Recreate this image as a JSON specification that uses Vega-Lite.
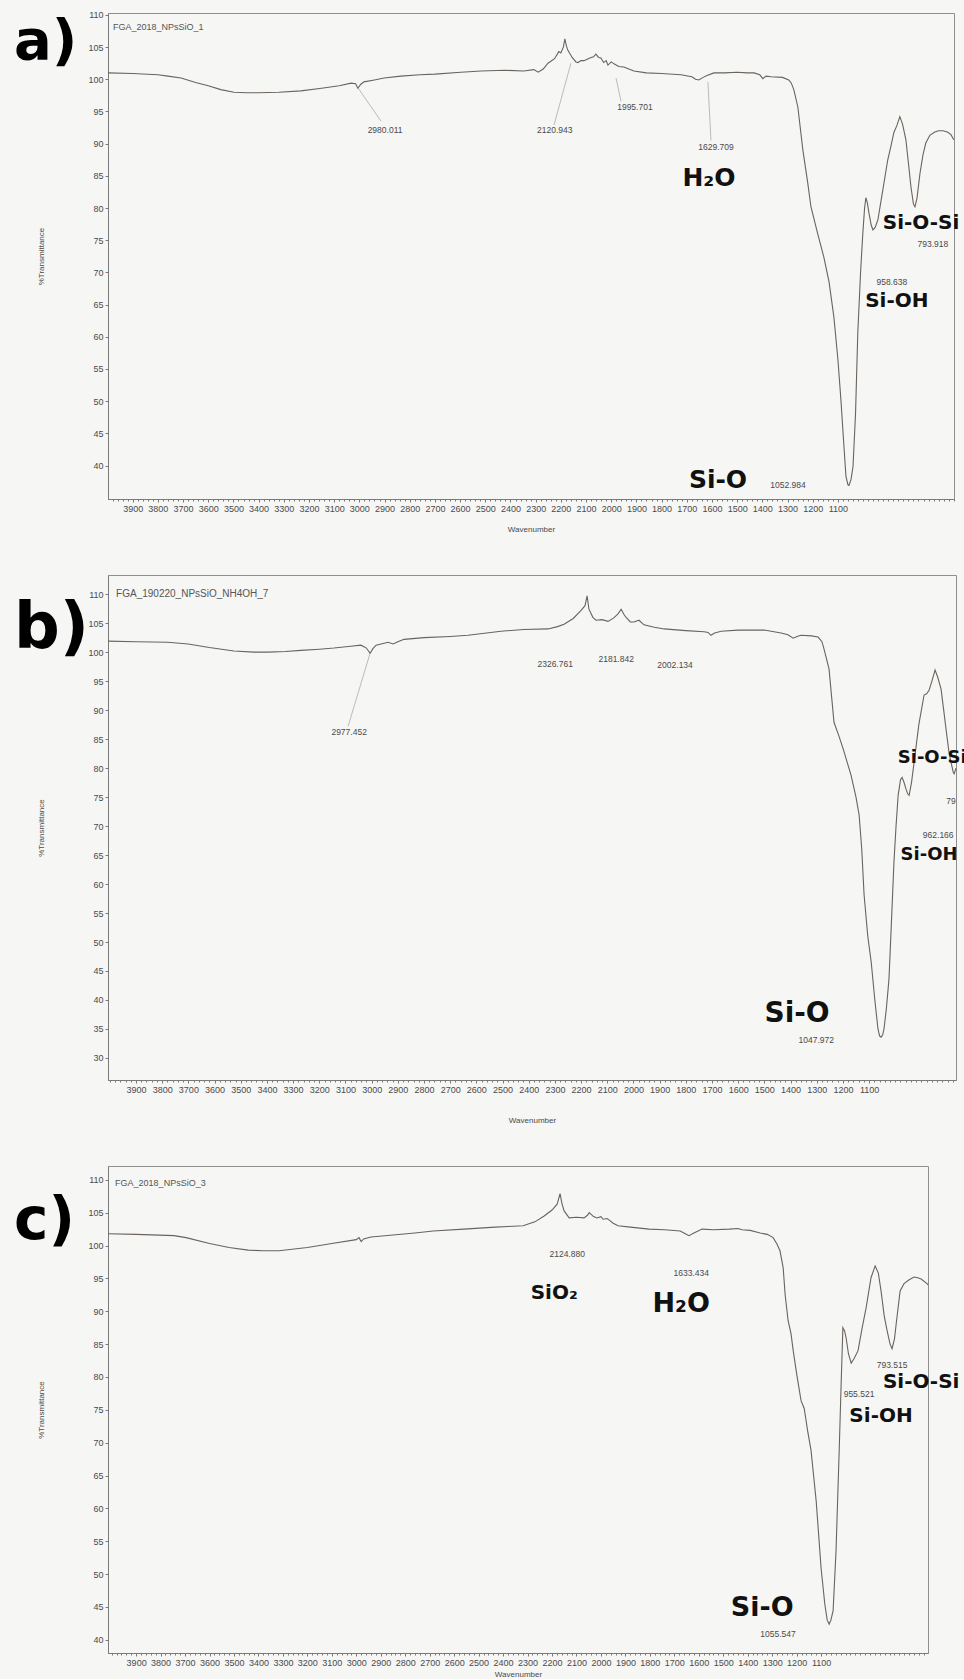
{
  "$schema": "https://vega.github.io/schema/vega-lite/v6.json",
  "background": "#f6f6f5",
  "padding": {"left": 13, "top": 10, "right": 0, "bottom": 0},
  "spacing": 40,
  "config": {
    "view": {"stroke": "#8e8e8e", "strokeWidth": 1},
    "axis": {"grid": false, "domainColor": "#7a7a7a", "tickColor": "#7a7a7a", "labelColor": "#4a4a4a", "labelFont": "Liberation Sans", "labelFontSize": 9, "titleFont": "Liberation Sans", "titleFontSize": 8, "titleFontWeight": "normal", "titleColor": "#4a4a4a", "tickSize": 3, "labelPadding": 2, "labelOverlap": false},
    "text": {"font": "Liberation Sans"}
  },
  "datasets": {
    "a_spec": [
      {"wn":3998,"T":101.0},{"wn":3900,"T":100.9},{"wn":3800,"T":100.7},{"wn":3760,"T":100.5},{"wn":3708,"T":100.2},{"wn":3650,"T":99.5},{"wn":3600,"T":99.0},{"wn":3550,"T":98.4},{"wn":3498,"T":98.0},{"wn":3450,"T":97.9},{"wn":3403,"T":97.9},{"wn":3320,"T":98.0},{"wn":3232,"T":98.2},{"wn":3150,"T":98.6},{"wn":3080,"T":99.0},{"wn":3033,"T":99.4},{"wn":3015,"T":99.3},{"wn":3006,"T":98.6},{"wn":2995,"T":99.2},{"wn":2982,"T":99.6},{"wn":2940,"T":99.9},{"wn":2902,"T":100.2},{"wn":2835,"T":100.5},{"wn":2760,"T":100.7},{"wn":2700,"T":100.8},{"wn":2597,"T":101.1},{"wn":2517,"T":101.3},{"wn":2420,"T":101.4},{"wn":2347,"T":101.3},{"wn":2307,"T":101.5},{"wn":2290,"T":101.1},{"wn":2270,"T":101.6},{"wn":2251,"T":102.5},{"wn":2225,"T":103.2},{"wn":2208,"T":104.3},{"wn":2200,"T":104.1},{"wn":2190,"T":105.0},{"wn":2184,"T":106.3},{"wn":2178,"T":105.2},{"wn":2172,"T":104.5},{"wn":2155,"T":103.4},{"wn":2140,"T":102.7},{"wn":2132,"T":102.6},{"wn":2120,"T":102.9},{"wn":2108,"T":102.9},{"wn":2085,"T":103.3},{"wn":2070,"T":103.5},{"wn":2061,"T":103.9},{"wn":2050,"T":103.4},{"wn":2041,"T":103.3},{"wn":2030,"T":102.6},{"wn":2020,"T":102.9},{"wn":2013,"T":102.2},{"wn":2000,"T":102.7},{"wn":1989,"T":102.4},{"wn":1970,"T":102.0},{"wn":1950,"T":101.9},{"wn":1930,"T":101.6},{"wn":1910,"T":101.3},{"wn":1860,"T":101.0},{"wn":1800,"T":100.9},{"wn":1723,"T":100.7},{"wn":1680,"T":100.4},{"wn":1665,"T":100.0},{"wn":1652,"T":99.9},{"wn":1635,"T":100.3},{"wn":1620,"T":100.6},{"wn":1592,"T":101.0},{"wn":1550,"T":101.0},{"wn":1500,"T":101.1},{"wn":1460,"T":101.0},{"wn":1433,"T":101.0},{"wn":1410,"T":100.7},{"wn":1398,"T":100.1},{"wn":1385,"T":100.5},{"wn":1366,"T":100.4},{"wn":1320,"T":100.3},{"wn":1295,"T":99.9},{"wn":1285,"T":99.4},{"wn":1275,"T":98.4},{"wn":1259,"T":95.7},{"wn":1239,"T":89.0},{"wn":1220,"T":84.0},{"wn":1207,"T":80.2},{"wn":1180,"T":76.0},{"wn":1156,"T":72.4},{"wn":1135,"T":68.5},{"wn":1116,"T":63.1},{"wn":1100,"T":56.5},{"wn":1088,"T":50.2},{"wn":1076,"T":43.0},{"wn":1068,"T":38.3},{"wn":1060,"T":37.0},{"wn":1056,"T":36.9},{"wn":1048,"T":37.8},{"wn":1040,"T":39.8},{"wn":1030,"T":48.0},{"wn":1021,"T":60.6},{"wn":1010,"T":70.0},{"wn":1001,"T":76.1},{"wn":994,"T":80.0},{"wn":989,"T":81.6},{"wn":983,"T":80.8},{"wn":977,"T":79.3},{"wn":968,"T":77.4},{"wn":961,"T":76.6},{"wn":952,"T":77.0},{"wn":941,"T":78.2},{"wn":925,"T":82.0},{"wn":902,"T":87.5},{"wn":890,"T":89.5},{"wn":878,"T":91.7},{"wn":866,"T":92.8},{"wn":854,"T":94.2},{"wn":843,"T":93.0},{"wn":830,"T":90.6},{"wn":820,"T":87.0},{"wn":810,"T":83.3},{"wn":800,"T":80.6},{"wn":794,"T":80.2},{"wn":786,"T":81.5},{"wn":774,"T":85.4},{"wn":762,"T":88.3},{"wn":751,"T":90.1},{"wn":735,"T":91.3},{"wn":715,"T":91.8},{"wn":700,"T":92.0},{"wn":683,"T":92.0},{"wn":665,"T":91.8},{"wn":651,"T":91.4},{"wn":640,"T":90.6}
    ],
    "a_lead": [
      {"wn":3006,"T":98.7,"wn2":2914,"T2":93.5},{"wn":2160,"T":102.5,"wn2":2227,"T2":92.9},{"wn":1981,"T":100.2,"wn2":1961,"T2":96.6},{"wn":1616,"T":99.6,"wn2":1604,"T2":90.5}
    ],
    "a_peaks": [
      {"wn":2898,"T":92.1,"label":"2980.011"},{"wn":2224,"T":92.1,"label":"2120.943"},{"wn":1906,"T":95.7,"label":"1995.701"},{"wn":1584,"T":89.5,"label":"1629.709"},{"wn":723,"T":74.4,"label":"793.918"},{"wn":886,"T":68.5,"label":"958.638"},{"wn":1298,"T":36.9,"label":"1052.984"}
    ],
    "a_big": [{"wn":1612,"T":84.7,"label":"H₂O"},{"wn":1576,"T":37.8,"label":"Si-O"}],
    "a_mid": [{"wn":770,"T":77.7,"label":"Si-O-Si"},{"wn":866,"T":65.6,"label":"Si-OH"}],
    "b_spec": [
      {"wn":4007,"T":101.9},{"wn":3900,"T":101.8},{"wn":3778,"T":101.7},{"wn":3701,"T":101.4},{"wn":3620,"T":100.8},{"wn":3526,"T":100.2},{"wn":3450,"T":100.0},{"wn":3396,"T":100.0},{"wn":3330,"T":100.1},{"wn":3270,"T":100.3},{"wn":3200,"T":100.5},{"wn":3144,"T":100.7},{"wn":3080,"T":101.0},{"wn":3041,"T":101.2},{"wn":3020,"T":100.7},{"wn":3006,"T":99.8},{"wn":2995,"T":100.6},{"wn":2983,"T":101.2},{"wn":2937,"T":101.7},{"wn":2918,"T":101.4},{"wn":2900,"T":101.8},{"wn":2876,"T":102.2},{"wn":2800,"T":102.5},{"wn":2700,"T":102.7},{"wn":2632,"T":102.9},{"wn":2506,"T":103.6},{"wn":2420,"T":103.9},{"wn":2326,"T":104.0},{"wn":2290,"T":104.4},{"wn":2265,"T":104.8},{"wn":2230,"T":105.8},{"wn":2200,"T":107.2},{"wn":2185,"T":108.0},{"wn":2177,"T":109.7},{"wn":2170,"T":107.4},{"wn":2155,"T":106.0},{"wn":2143,"T":105.5},{"wn":2120,"T":105.6},{"wn":2097,"T":105.3},{"wn":2075,"T":105.9},{"wn":2059,"T":106.6},{"wn":2047,"T":107.4},{"wn":2035,"T":106.4},{"wn":2028,"T":106.0},{"wn":2012,"T":105.2},{"wn":1998,"T":105.2},{"wn":1979,"T":105.5},{"wn":1960,"T":104.7},{"wn":1920,"T":104.3},{"wn":1883,"T":104.0},{"wn":1800,"T":103.7},{"wn":1730,"T":103.5},{"wn":1715,"T":103.4},{"wn":1704,"T":102.9},{"wn":1690,"T":103.3},{"wn":1665,"T":103.6},{"wn":1600,"T":103.8},{"wn":1501,"T":103.8},{"wn":1436,"T":103.3},{"wn":1410,"T":103.0},{"wn":1390,"T":102.4},{"wn":1375,"T":102.7},{"wn":1360,"T":102.9},{"wn":1320,"T":102.8},{"wn":1295,"T":102.6},{"wn":1280,"T":101.8},{"wn":1272,"T":100.5},{"wn":1253,"T":97.1},{"wn":1234,"T":87.9},{"wn":1215,"T":85.5},{"wn":1199,"T":83.3},{"wn":1169,"T":78.8},{"wn":1150,"T":75.0},{"wn":1138,"T":71.9},{"wn":1128,"T":66.0},{"wn":1119,"T":58.1},{"wn":1105,"T":51.0},{"wn":1092,"T":46.6},{"wn":1078,"T":40.0},{"wn":1066,"T":35.0},{"wn":1060,"T":33.8},{"wn":1054,"T":33.6},{"wn":1048,"T":34.0},{"wn":1043,"T":35.0},{"wn":1034,"T":38.5},{"wn":1024,"T":43.6},{"wn":1015,"T":53.0},{"wn":1005,"T":63.8},{"wn":997,"T":70.0},{"wn":989,"T":75.3},{"wn":980,"T":78.0},{"wn":974,"T":78.4},{"wn":967,"T":77.6},{"wn":959,"T":76.4},{"wn":953,"T":75.6},{"wn":947,"T":75.3},{"wn":938,"T":77.5},{"wn":928,"T":81.0},{"wn":910,"T":87.5},{"wn":890,"T":92.6},{"wn":880,"T":92.8},{"wn":871,"T":93.4},{"wn":860,"T":95.0},{"wn":848,"T":96.9},{"wn":838,"T":95.7},{"wn":825,"T":93.6},{"wn":815,"T":90.0},{"wn":806,"T":86.7},{"wn":795,"T":82.8},{"wn":787,"T":81.0},{"wn":778,"T":79.2},{"wn":775,"T":79.0},{"wn":768,"T":80.0}
    ],
    "b_lead": [{"wn":3006,"T":99.8,"wn2":3090,"T2":87.2}],
    "b_peaks": [
      {"wn":3086,"T":86.2,"label":"2977.452"},{"wn":2299,"T":97.9,"label":"2326.761"},{"wn":2066,"T":98.8,"label":"2181.842"},{"wn":1841,"T":97.8,"label":"2002.134"},{"wn":787,"T":74.3,"label":"79"},{"wn":836,"T":68.4,"label":"962.166"},{"wn":1302,"T":33.1,"label":"1047.972"}
    ],
    "b_big": [{"wn":1375,"T":37.6,"label":"Si-O"}],
    "b_mid": [{"wn":859,"T":81.7,"label":"Si-O-Si"},{"wn":871,"T":65.0,"label":"Si-OH"}],
    "c_spec": [
      {"wn":4015,"T":101.8},{"wn":3900,"T":101.7},{"wn":3745,"T":101.5},{"wn":3696,"T":101.2},{"wn":3600,"T":100.3},{"wn":3520,"T":99.7},{"wn":3442,"T":99.3},{"wn":3380,"T":99.2},{"wn":3316,"T":99.2},{"wn":3200,"T":99.7},{"wn":3100,"T":100.3},{"wn":3000,"T":100.9},{"wn":2989,"T":101.2},{"wn":2980,"T":100.6},{"wn":2970,"T":101.0},{"wn":2940,"T":101.3},{"wn":2850,"T":101.6},{"wn":2760,"T":101.9},{"wn":2686,"T":102.2},{"wn":2560,"T":102.5},{"wn":2433,"T":102.8},{"wn":2380,"T":102.9},{"wn":2318,"T":103.0},{"wn":2270,"T":103.6},{"wn":2232,"T":104.5},{"wn":2200,"T":105.4},{"wn":2179,"T":106.3},{"wn":2167,"T":107.9},{"wn":2160,"T":106.5},{"wn":2151,"T":105.3},{"wn":2130,"T":104.2},{"wn":2100,"T":104.3},{"wn":2069,"T":104.2},{"wn":2055,"T":104.6},{"wn":2048,"T":105.0},{"wn":2030,"T":104.4},{"wn":2016,"T":104.2},{"wn":2000,"T":104.4},{"wn":1991,"T":104.0},{"wn":1975,"T":104.1},{"wn":1967,"T":103.9},{"wn":1950,"T":103.4},{"wn":1930,"T":103.0},{"wn":1880,"T":102.8},{"wn":1803,"T":102.5},{"wn":1740,"T":102.4},{"wn":1676,"T":102.2},{"wn":1655,"T":101.8},{"wn":1640,"T":101.5},{"wn":1620,"T":101.9},{"wn":1586,"T":102.5},{"wn":1540,"T":102.4},{"wn":1476,"T":102.5},{"wn":1440,"T":102.6},{"wn":1423,"T":102.4},{"wn":1390,"T":102.3},{"wn":1349,"T":101.9},{"wn":1320,"T":101.7},{"wn":1296,"T":101.2},{"wn":1280,"T":100.2},{"wn":1268,"T":99.2},{"wn":1255,"T":96.6},{"wn":1247,"T":92.5},{"wn":1235,"T":88.6},{"wn":1223,"T":86.6},{"wn":1214,"T":84.0},{"wn":1200,"T":80.5},{"wn":1182,"T":76.4},{"wn":1169,"T":75.2},{"wn":1155,"T":71.8},{"wn":1141,"T":68.8},{"wn":1120,"T":61.1},{"wn":1100,"T":50.9},{"wn":1085,"T":45.5},{"wn":1075,"T":43.0},{"wn":1067,"T":42.4},{"wn":1060,"T":43.0},{"wn":1051,"T":44.4},{"wn":1039,"T":53.5},{"wn":1026,"T":68.8},{"wn":1018,"T":79.0},{"wn":1011,"T":87.5},{"wn":1004,"T":87.0},{"wn":998,"T":86.0},{"wn":988,"T":83.5},{"wn":977,"T":82.1},{"wn":965,"T":82.8},{"wn":949,"T":84.0},{"wn":932,"T":87.5},{"wn":916,"T":90.5},{"wn":896,"T":95.1},{"wn":879,"T":96.9},{"wn":866,"T":95.8},{"wn":855,"T":93.1},{"wn":842,"T":89.3},{"wn":830,"T":87.0},{"wn":818,"T":85.0},{"wn":810,"T":84.3},{"wn":800,"T":85.8},{"wn":793,"T":88.1},{"wn":777,"T":93.1},{"wn":761,"T":94.2},{"wn":740,"T":94.8},{"wn":720,"T":95.2},{"wn":705,"T":95.1},{"wn":691,"T":94.9},{"wn":667,"T":94.2},{"wn":663,"T":94.0}
    ],
    "c_peaks": [
      {"wn":2138,"T":98.7,"label":"2124.880"},{"wn":1631,"T":95.8,"label":"1633.434"},{"wn":810,"T":81.8,"label":"793.515"},{"wn":945,"T":77.4,"label":"955.521"},{"wn":1276,"T":40.9,"label":"1055.547"}
    ],
    "c_big": [{"wn":1672,"T":91.1,"label":"H₂O"},{"wn":1341,"T":44.9,"label":"Si-O"}],
    "c_mid": [{"wn":2191,"T":92.8,"label":"SiO₂"},{"wn":691,"T":79.3,"label":"Si-O-Si"},{"wn":855,"T":74.1,"label":"Si-OH"}]
  },
  "vconcat": [
    {
      "width": 846, "height": 486,
      "resolve": {"axis": {"x": "independent", "y": "independent"}},
      "layer": [
        {"data": {"name": "a_spec"}, "mark": {"type": "line", "color": "#6a635e", "strokeWidth": 1.1},
         "encoding": {
           "x": {"field": "wn", "type": "quantitative", "title": "Wavenumber", "scale": {"domain": [639, 3998], "reverse": true, "nice": false, "zero": false},
                 "axis": {"orient": "bottom", "format": "d", "values": [1100,1200,1300,1400,1500,1600,1700,1800,1900,2000,2100,2200,2300,2400,2500,2600,2700,2800,2900,3000,3100,3200,3300,3400,3500,3600,3700,3800,3900], "titlePadding": 12}},
           "y": {"field": "T", "type": "quantitative", "title": "%Transmittance", "scale": {"domain": [34.8, 110.3], "nice": false, "zero": false},
                 "axis": {"orient": "left", "format": "d", "values": [40,45,50,55,60,65,70,75,80,85,90,95,100,105,110], "titlePadding": 42}}
         }},
        {"data": {"name": "a_lead"}, "mark": {"type": "rule", "color": "#a0a0a0", "strokeWidth": 0.7},
         "encoding": {"x": {"field": "wn", "type": "quantitative", "axis": null}, "x2": {"field": "wn2"}, "y": {"field": "T", "type": "quantitative", "axis": null}, "y2": {"field": "T2"}}},
        {"data": {"name": "a_peaks"}, "mark": {"type": "text", "fontSize": 8.5, "color": "#4a4a4a", "baseline": "middle", "align": "center"},
         "encoding": {"x": {"field": "wn", "type": "quantitative", "axis": {"orient": "bottom", "tickCount": 170, "labels": false, "domain": false, "tickSize": 2, "title": null}}, "y": {"field": "T", "type": "quantitative", "axis": null}, "text": {"field": "label"}}},
        {"data": {"name": "a_big"}, "mark": {"type": "text", "font": "DejaVu Sans", "fontWeight": "bold", "fontSize": 25, "color": "#111111", "baseline": "middle", "align": "center"},
         "encoding": {"x": {"field": "wn", "type": "quantitative", "axis": null}, "y": {"field": "T", "type": "quantitative", "axis": null}, "text": {"field": "label"}}},
        {"data": {"name": "a_mid"}, "mark": {"type": "text", "font": "DejaVu Sans", "fontWeight": "bold", "fontSize": 20, "color": "#111111", "baseline": "middle", "align": "center"},
         "encoding": {"x": {"field": "wn", "type": "quantitative", "axis": null}, "y": {"field": "T", "type": "quantitative", "axis": null}, "text": {"field": "label"}}},
        {"data": {"values": [{"label": "a)"}]}, "mark": {"type": "text", "font": "DejaVu Sans", "fontWeight": "bold", "fontSize": 56, "color": "#000000", "baseline": "middle", "align": "left"},
         "encoding": {"x": {"datum": 4371, "type": "quantitative", "axis": null}, "y": {"datum": 105.8, "type": "quantitative", "axis": null}, "text": {"field": "label"}}},
        {"data": {"values": [{"label": "FGA_2018_NPsSiO_1"}]}, "mark": {"type": "text", "fontSize": 9, "color": "#555555", "baseline": "middle", "align": "left"},
         "encoding": {"x": {"datum": 3978, "type": "quantitative", "axis": null}, "y": {"datum": 108.1, "type": "quantitative", "axis": null}, "text": {"field": "label"}}}
      ]
    },
    {
      "width": 848, "height": 505,
      "resolve": {"axis": {"x": "independent", "y": "independent"}},
      "layer": [
        {"data": {"name": "b_spec"}, "mark": {"type": "line", "color": "#6a635e", "strokeWidth": 1.1},
         "encoding": {
           "x": {"field": "wn", "type": "quantitative", "title": "Wavenumber", "scale": {"domain": [768, 4007], "reverse": true, "nice": false, "zero": false},
                 "axis": {"orient": "bottom", "format": "d", "values": [1100,1200,1300,1400,1500,1600,1700,1800,1900,2000,2100,2200,2300,2400,2500,2600,2700,2800,2900,3000,3100,3200,3300,3400,3500,3600,3700,3800,3900], "titlePadding": 22}},
           "y": {"field": "T", "type": "quantitative", "title": "%Transmittance", "scale": {"domain": [26.2, 113.3], "nice": false, "zero": false},
                 "axis": {"orient": "left", "format": "d", "values": [30,35,40,45,50,55,60,65,70,75,80,85,90,95,100,105,110], "titlePadding": 42}}
         }},
        {"data": {"name": "b_lead"}, "mark": {"type": "rule", "color": "#a0a0a0", "strokeWidth": 0.7},
         "encoding": {"x": {"field": "wn", "type": "quantitative", "axis": null}, "x2": {"field": "wn2"}, "y": {"field": "T", "type": "quantitative", "axis": null}, "y2": {"field": "T2"}}},
        {"data": {"name": "b_peaks"}, "mark": {"type": "text", "fontSize": 8.5, "color": "#4a4a4a", "baseline": "middle", "align": "center"},
         "encoding": {"x": {"field": "wn", "type": "quantitative", "axis": {"orient": "bottom", "tickCount": 170, "labels": false, "domain": false, "tickSize": 2, "title": null}}, "y": {"field": "T", "type": "quantitative", "axis": null}, "text": {"field": "label"}}},
        {"data": {"name": "b_big"}, "mark": {"type": "text", "font": "DejaVu Sans", "fontWeight": "bold", "fontSize": 28, "color": "#111111", "baseline": "middle", "align": "center"},
         "encoding": {"x": {"field": "wn", "type": "quantitative", "axis": null}, "y": {"field": "T", "type": "quantitative", "axis": null}, "text": {"field": "label"}}},
        {"data": {"name": "b_mid"}, "mark": {"type": "text", "font": "DejaVu Sans", "fontWeight": "bold", "fontSize": 18, "color": "#111111", "baseline": "middle", "align": "center"},
         "encoding": {"x": {"field": "wn", "type": "quantitative", "axis": null}, "y": {"field": "T", "type": "quantitative", "axis": null}, "text": {"field": "label"}}},
        {"data": {"values": [{"label": "b)"}]}, "mark": {"type": "text", "font": "DejaVu Sans", "fontWeight": "bold", "fontSize": 64, "color": "#000000", "baseline": "middle", "align": "left"},
         "encoding": {"x": {"datum": 4366, "type": "quantitative", "axis": null}, "y": {"datum": 104.0, "type": "quantitative", "axis": null}, "text": {"field": "label"}}},
        {"data": {"values": [{"label": "FGA_190220_NPsSiO_NH4OH_7"}]}, "mark": {"type": "text", "fontSize": 10, "color": "#555555", "baseline": "middle", "align": "left"},
         "encoding": {"x": {"datum": 3976, "type": "quantitative", "axis": null}, "y": {"datum": 110.0, "type": "quantitative", "axis": null}, "text": {"field": "label"}}}
      ]
    },
    {
      "width": 820, "height": 487,
      "resolve": {"axis": {"x": "independent", "y": "independent"}},
      "layer": [
        {"data": {"name": "c_spec"}, "mark": {"type": "line", "color": "#6a635e", "strokeWidth": 1.1},
         "encoding": {
           "x": {"field": "wn", "type": "quantitative", "title": "Wavenumber", "scale": {"domain": [663, 4015], "reverse": true, "nice": false, "zero": false},
                 "axis": {"orient": "bottom", "format": "d", "values": [1100,1200,1300,1400,1500,1600,1700,1800,1900,2000,2100,2200,2300,2400,2500,2600,2700,2800,2900,3000,3100,3200,3300,3400,3500,3600,3700,3800,3900], "titlePadding": 3}},
           "y": {"field": "T", "type": "quantitative", "title": "%Transmittance", "scale": {"domain": [38.0, 112.1], "nice": false, "zero": false},
                 "axis": {"orient": "left", "format": "d", "values": [40,45,50,55,60,65,70,75,80,85,90,95,100,105,110], "titlePadding": 42}}
         }},
        {"data": {"name": "c_peaks"}, "mark": {"type": "text", "fontSize": 8.5, "color": "#4a4a4a", "baseline": "middle", "align": "center"},
         "encoding": {"x": {"field": "wn", "type": "quantitative", "axis": {"orient": "bottom", "tickCount": 170, "labels": false, "domain": false, "tickSize": 2, "title": null}}, "y": {"field": "T", "type": "quantitative", "axis": null}, "text": {"field": "label"}}},
        {"data": {"name": "c_big"}, "mark": {"type": "text", "font": "DejaVu Sans", "fontWeight": "bold", "fontSize": 27, "color": "#111111", "baseline": "middle", "align": "center"},
         "encoding": {"x": {"field": "wn", "type": "quantitative", "axis": null}, "y": {"field": "T", "type": "quantitative", "axis": null}, "text": {"field": "label"}}},
        {"data": {"name": "c_mid"}, "mark": {"type": "text", "font": "DejaVu Sans", "fontWeight": "bold", "fontSize": 20, "color": "#111111", "baseline": "middle", "align": "center"},
         "encoding": {"x": {"field": "wn", "type": "quantitative", "axis": null}, "y": {"field": "T", "type": "quantitative", "axis": null}, "text": {"field": "label"}}},
        {"data": {"values": [{"label": "c)"}]}, "mark": {"type": "text", "font": "DejaVu Sans", "fontWeight": "bold", "fontSize": 58, "color": "#000000", "baseline": "middle", "align": "left"},
         "encoding": {"x": {"datum": 4399, "type": "quantitative", "axis": null}, "y": {"datum": 103.6, "type": "quantitative", "axis": null}, "text": {"field": "label"}}},
        {"data": {"values": [{"label": "FGA_2018_NPsSiO_3"}]}, "mark": {"type": "text", "fontSize": 9, "color": "#555555", "baseline": "middle", "align": "left"},
         "encoding": {"x": {"datum": 3986, "type": "quantitative", "axis": null}, "y": {"datum": 109.5, "type": "quantitative", "axis": null}, "text": {"field": "label"}}}
      ]
    }
  ]
}
